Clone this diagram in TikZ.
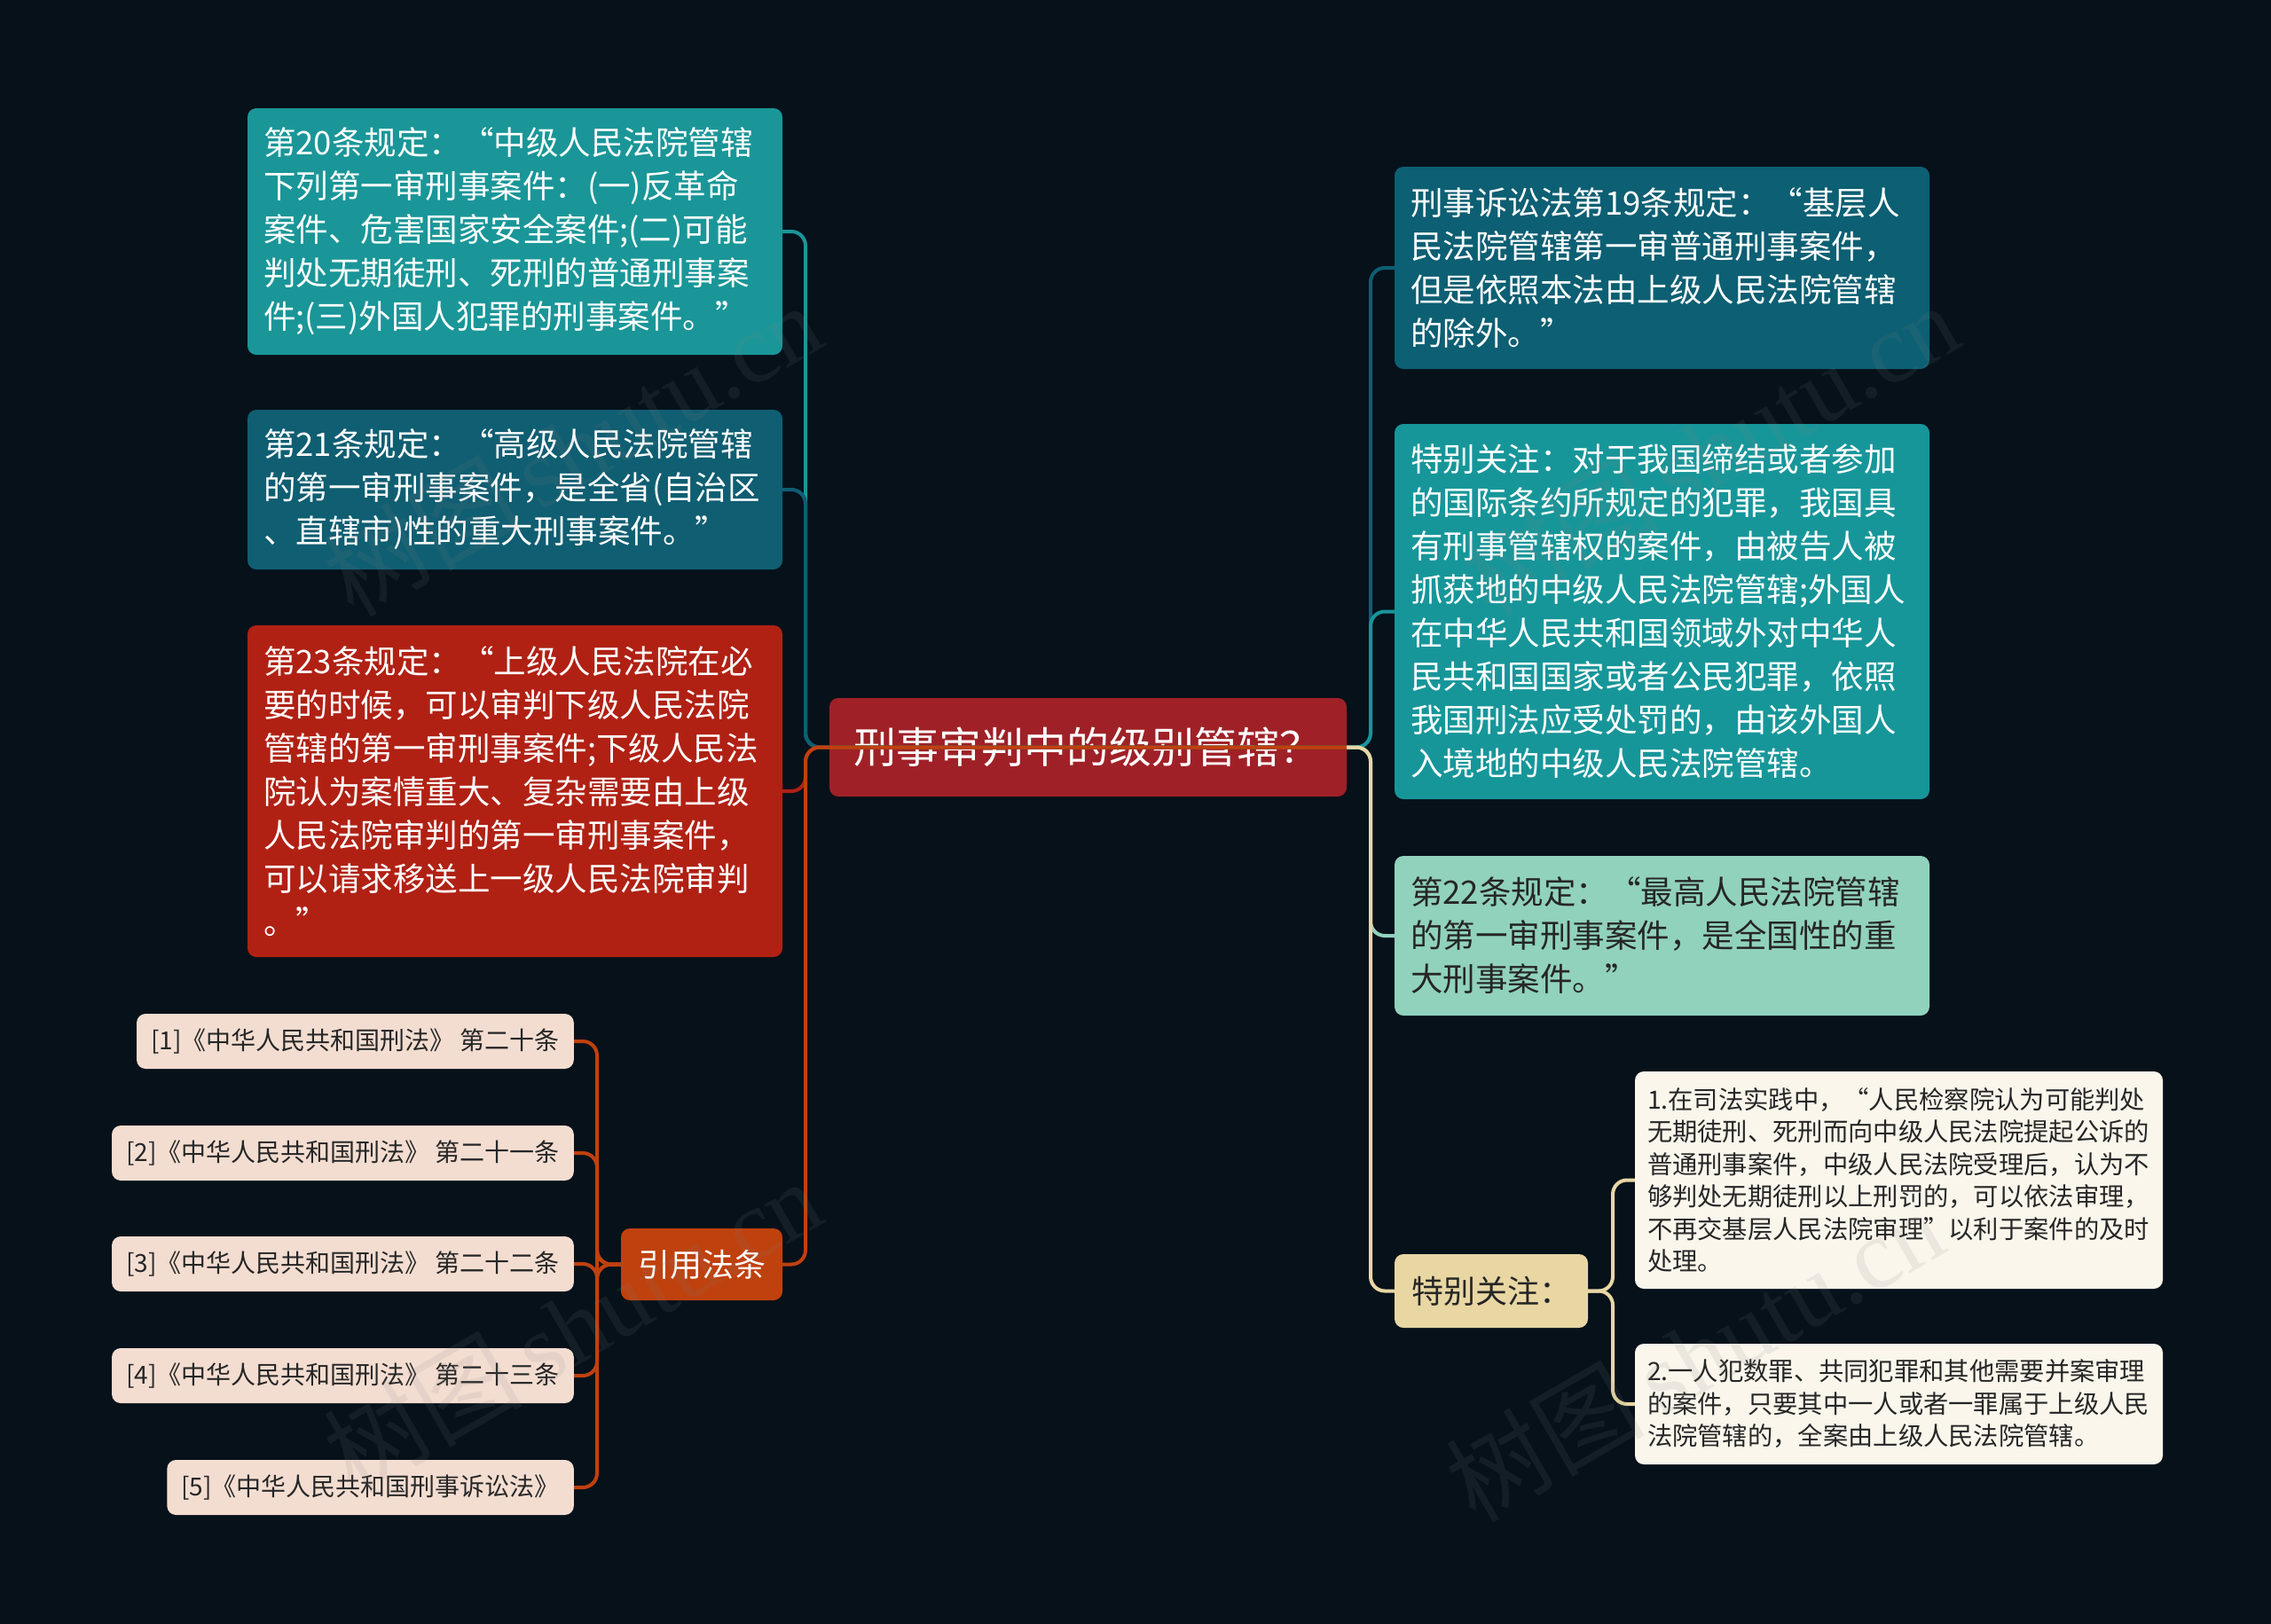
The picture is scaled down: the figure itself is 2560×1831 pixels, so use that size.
\documentclass[tikz,border=0pt]{standalone}
\usepackage{fontspec}
\newfontfamily\cjk{Noto Sans CJK SC}
\newfontfamily\wmserif{Liberation Serif}
\definecolor{bg}{HTML}{06111A}
\definecolor{cA}{HTML}{1A9698}
\definecolor{cB}{HTML}{105E72}
\definecolor{cC}{HTML}{B02114}
\definecolor{cRoot}{HTML}{9F2127}
\definecolor{cCite}{HTML}{BF410E}
\definecolor{cRef}{HTML}{F3DDD1}
\definecolor{cD}{HTML}{0D5F73}
\definecolor{cE}{HTML}{17969A}
\definecolor{cF}{HTML}{91D2BC}
\definecolor{cG}{HTML}{E8D7A3}
\definecolor{cH}{HTML}{FAF6EC}
\definecolor{darktxt}{HTML}{262626}
\tikzset{
  box/.style={rounded corners=10pt, inner sep=0pt, align=left, text=white,
    font=\cjk\fontsize{36.5}{49}\selectfont},
  darkbox/.style={box, text=darktxt},
  refbox/.style={rounded corners=10pt, inner xsep=16pt, inner ysep=0pt, fill=cRef, text=darktxt,
    minimum height=62pt, anchor=east, font=\cjk\fontsize{28}{34}\selectfont},
  detailbox/.style={rounded corners=10pt, inner sep=0pt, align=left, fill=cH, text=darktxt,
    font=\cjk\fontsize{28.3}{36.5}\selectfont},
  conn/.style={line width=4pt, rounded corners=16pt},
  wm/.style={rotate=30, text=gray, opacity=0.12, font=\fontsize{112}{112}\selectfont}
}
\begin{document}
\begin{tikzpicture}[x=1pt, y=-1pt]
\fill[bg] (0,0) rectangle (2560,1831);
\useasboundingbox (0,0) rectangle (2560,1831);

% root
\node[box, fill=cRoot, minimum width=583pt, minimum height=111pt, align=center,
  font=\cjk\fontsize{48}{52}\selectfont] (root) at (1226.5,842.5) {刑事审判中的级别管辖？};

% left branch
\node[box, fill=cA, minimum width=603pt, minimum height=278pt, text width=567pt] (n20) at (580.5,261)
{第20条规定：“中级人民法院管辖\\下列第一审刑事案件：(一)反革命\\案件、危害国家安全案件;(二)可能\\判处无期徒刑、死刑的普通刑事案\\件;(三)外国人犯罪的刑事案件。”};
\node[box, fill=cB, minimum width=603pt, minimum height=180pt, text width=567pt] (n21) at (580.5,552)
{第21条规定：“高级人民法院管辖\\的第一审刑事案件，是全省(自治区\\、直辖市)性的重大刑事案件。”};
\node[box, fill=cC, minimum width=603pt, minimum height=374pt, text width=567pt] (n23) at (580.5,892)
{第23条规定：“上级人民法院在必\\要的时候，可以审判下级人民法院\\管辖的第一审刑事案件;下级人民法\\院认为案情重大、复杂需要由上级\\人民法院审判的第一审刑事案件，\\可以请求移送上一级人民法院审判\\。”};
\node[box, fill=cCite, minimum width=182pt, minimum height=81pt, align=center,
  font=\cjk\fontsize{36}{40}\selectfont] (cite) at (791,1425.5) {引用法条};

\node[refbox] (r1) at (647,1174) {[1]《中华人民共和国刑法》 第二十条};
\node[refbox] (r2) at (647,1300) {[2]《中华人民共和国刑法》 第二十一条};
\node[refbox] (r3) at (647,1425) {[3]《中华人民共和国刑法》 第二十二条};
\node[refbox] (r4) at (647,1551) {[4]《中华人民共和国刑法》 第二十三条};
\node[refbox] (r5) at (647,1677) {[5]《中华人民共和国刑事诉讼法》};

% right branch
\node[box, fill=cD, minimum width=603pt, minimum height=228pt, text width=567pt] (n19) at (1873.5,302)
{刑事诉讼法第19条规定：“基层人\\民法院管辖第一审普通刑事案件，\\但是依照本法由上级人民法院管辖\\的除外。”};
\node[box, fill=cE, minimum width=603pt, minimum height=423pt, text width=567pt] (sp) at (1873.5,689.5)
{特别关注：对于我国缔结或者参加\\的国际条约所规定的犯罪，我国具\\有刑事管辖权的案件，由被告人被\\抓获地的中级人民法院管辖;外国人\\在中华人民共和国领域外对中华人\\民共和国国家或者公民犯罪，依照\\我国刑法应受处罚的，由该外国人\\入境地的中级人民法院管辖。};
\node[darkbox, fill=cF, minimum width=603pt, minimum height=180pt, text width=567pt] (n22) at (1873.5,1055)
{第22条规定：“最高人民法院管辖\\的第一审刑事案件，是全国性的重\\大刑事案件。”};
\node[darkbox, fill=cG, minimum width=218pt, minimum height=83pt, align=center,
  font=\cjk\fontsize{36}{40}\selectfont] (tb) at (1681,1455.5) {特别关注：};
\node[detailbox, minimum width=595pt, minimum height=245pt, text width=567pt] (d1) at (2140.5,1330.5)
{1.在司法实践中，“人民检察院认为可能判处\\无期徒刑、死刑而向中级人民法院提起公诉的\\普通刑事案件，中级人民法院受理后，认为不\\够判处无期徒刑以上刑罚的，可以依法审理，\\不再交基层人民法院审理”以利于案件的及时\\处理。};
\node[detailbox, minimum width=595pt, minimum height=136pt, text width=567pt] (d2) at (2140.5,1583)
{2.一人犯数罪、共同犯罪和其他需要并案审理\\的案件，只要其中一人或者一罪属于上级人民\\法院管辖的，全案由上级人民法院管辖。};

% connectors left
\coordinate (ls) at (908,842.5);
\coordinate (rs) at (1545,842.5);
\draw[conn, cA] (root.east) -- (ls) -- (ls |- n20.east) -- (n20.east);
\draw[conn, cB] (root.east) -- (ls) -- (ls |- n21.east) -- (n21.east);
\draw[conn, cC] (root.east) -- (ls) -- (ls |- n23.east) -- (n23.east);
\draw[conn, cCite] (root.east) -- (ls) -- (ls |- cite.east) -- (cite.east);

% connectors right
\draw[conn, cD] (root.east) -- (rs) -- (rs |- n19.west) -- (n19.west);
\draw[conn, cE] (root.east) -- (rs) -- (rs |- sp.west) -- (sp.west);
\draw[conn, cF] (root.east) -- (rs) -- (rs |- n22.west) -- (n22.west);
\draw[conn, cG] (root.east) -- (rs) -- (rs |- tb.west) -- (tb.west);

% citations
\coordinate (cs) at (673,1425.5);
\foreach \r in {r1,r2,r3,r4,r5}{
  \draw[conn, cCite] (cite.west) -- (cs) -- (cs |- \r.east) -- (\r.east);
}
% details
\coordinate (ds) at (1818,1455.5);
\draw[conn, cG] (tb.east) -- (ds) -- (ds |- d1.west) -- (d1.west);
\draw[conn, cG] (tb.east) -- (ds) -- (ds |- d2.west) -- (d2.west);

% watermarks
\node[wm] (w1) at (645,506) {\cjk 树图\,\wmserif shutu.cn};
\node[wm] (w2) at (645,1494) {\cjk 树图\,\wmserif shutu.cn};
\node[wm] (w3) at (1927,506) {\cjk 树图\,\wmserif shutu.cn};
\node[wm] (w4) at (1910,1527) {\cjk 树图\,\wmserif shutu.cn};
\end{tikzpicture}
\end{document}
